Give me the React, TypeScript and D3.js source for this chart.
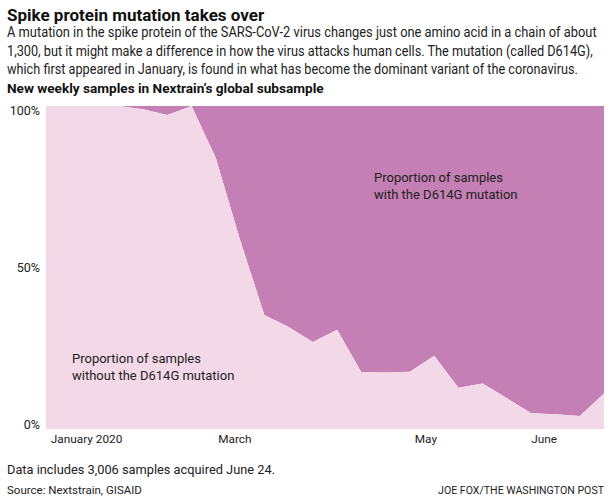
import React, { useLayoutEffect, useRef } from "react";
import * as d3 from "d3";

const withoutPct = [100, 100, 100, 100, 99.0, 97.2, 100, 83.9, 58.5, 35.3, 31.6, 26.9, 30.7, 17.6, 17.5, 17.7, 22.7, 12.8, 14.1, 9.5, 4.9, 4.6, 4.0, 11.0];
const xTickWeeks = [0.2, 7.1, 15.2, 20.0];
const xTickLabels = ["January 2020", "March", "May", "June"];
const yTicks = [0, 50, 100];
const subtitleLines = [
  "A mutation in the spike protein of the SARS-CoV-2 virus changes just one amino acid in a chain of about",
  "1,300, but it might make a difference in how the virus attacks human cells. The mutation (called D614G),",
  "which first appeared in January, is found in what has become the dominant variant of the coronavirus.",
];
const subtitleWidths = [590, 586, 571];

const W = 611;
const H = 500;
const LIGHT = "#f3d8e8";
const DARK = "#c47fb5";
const TEXT = "#222";
const FONT = "'Roboto', sans-serif";

export default function App() {
  const svgRef = useRef<SVGSVGElement>(null);
  const x = d3.scaleLinear().domain([0, withoutPct.length - 1]).range([46, 604]);
  const y = d3.scaleLinear().domain([0, 100]).range([429, 106]);
  const idx = withoutPct.map((_, i) => i);

  const lightArea = d3
    .area<number>()
    .x((i) => x(i))
    .y0(() => y(0))
    .y1((i) => y(withoutPct[i]));
  const darkArea = d3
    .area<number>()
    .x((i) => x(i))
    .y0((i) => y(withoutPct[i]))
    .y1(() => y(100));

  useLayoutEffect(() => {
    if (!svgRef.current) return;
    d3.select(svgRef.current)
      .selectAll<SVGTextElement, unknown>("text[data-fit]")
      .each(function () {
        const target = +(this.getAttribute("data-fit") || 0);
        const w = this.getComputedTextLength();
        if (!w || !target) return;
        const s = target / w;
        const ax = +(this.getAttribute("x") || 0);
        const ay = +(this.getAttribute("y") || 0);
        this.setAttribute("transform", `translate(${ax},${ay}) scale(${s},1) translate(${-ax},${-ay})`);
      });
  }, []);

  return (
    <svg
      ref={svgRef}
      width={W}
      height={H}
      style={{ position: "absolute", left: 0, top: 0, background: "#fff" }}
      fontFamily={FONT}
    >
      <text x={7} y={21} fontSize={17} fontWeight="bold" fill="#111">
        Spike protein mutation takes over
      </text>
      {subtitleLines.map((l, i) => (
        <text key={i} x={7} y={37 + i * 18.7} fontSize={14} fill={TEXT} data-fit={subtitleWidths[i]}>
          {l}
        </text>
      ))}
      <text x={7} y={93} fontSize={13.6} fontWeight="bold" fill="#111">
        New weekly samples in Nextrain’s global subsample
      </text>

      <path d={darkArea(idx) || ""} fill={DARK} />
      <path d={lightArea(idx) || ""} fill={LIGHT} />

      {yTicks.map((v) => (
        <text key={v} x={40} y={y(v) + (9 * v) / 100} fontSize={12.5} textAnchor="end" fill={TEXT}>
          {v}%
        </text>
      ))}
      {xTickWeeks.map((w, i) => (
        <text key={i} x={x(w)} y={443} fontSize={11.8} fill={TEXT}>
          {xTickLabels[i]}
        </text>
      ))}

      <text x={72} y={363} fontSize={13} fill={TEXT}>
        <tspan x={72}>Proportion of samples</tspan>
        <tspan x={72} dy={16.5}>without the D614G mutation</tspan>
      </text>
      <text x={374} y={182} fontSize={13} fill={TEXT}>
        <tspan x={374}>Proportion of samples</tspan>
        <tspan x={374} dy={16.5}>with the D614G mutation</tspan>
      </text>

      <text x={7} y={474} fontSize={12.8} fill={TEXT}>
        Data includes 3,006 samples acquired June 24.
      </text>
      <text x={7} y={494} fontSize={11.5} fill={TEXT}>
        Source: Nextstrain, GISAID
      </text>
      <text x={604} y={494} fontSize={11.5} textAnchor="end" fill={TEXT} data-fit={166}>
        JOE FOX/THE WASHINGTON POST
      </text>
    </svg>
  );
}
